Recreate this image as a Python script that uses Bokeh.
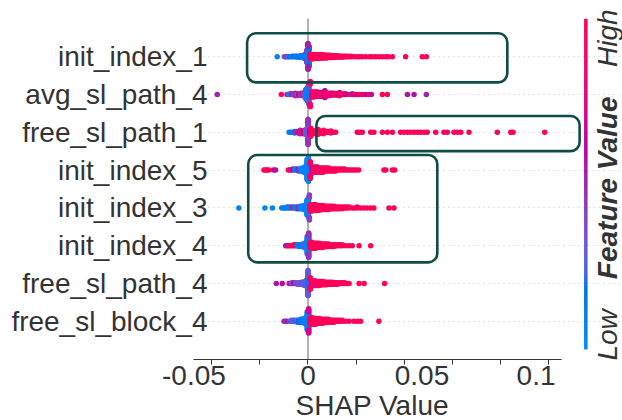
import numpy as np
from bokeh.plotting import figure
from bokeh.models import (Range1d, FixedTicker, BoxAnnotation, ColumnDataSource, Label,
                          Title)
from bokeh.transform import linear_cmap
from bokeh.embed import file_html
from bokeh.resources import INLINE

# ---------------- data ----------------
# features, top to bottom
features = ["init_index_1", "avg_sl_path_4", "free_sl_path_1", "init_index_5",
            "init_index_3", "init_index_4", "free_sl_path_4", "free_sl_block_4"]

# each entry: (SHAP value, number of samples, feature value 0=low .. 1=high)
init_index_1 = [
    (-0.0135, 1, 0.05), (-0.0104, 1, 0.30), (-0.0097, 1, 0.45), (-0.0091, 1, 0.35),
    (-0.0085, 1, 0.25), (-0.0078, 1, 0.15), (-0.0070, 2, 0.10), (-0.0062, 2, 0.15),
    (-0.0055, 2, 0.10), (-0.0048, 3, 0.20), (-0.0040, 3, 0.10), (-0.0032, 4, 0.15),
    (-0.0025, 5, 0.10), (-0.0018, 7, 0.20), (-0.0011, 12, 0.10),
    (-0.0005, 20, 0.10), (-0.0005, 8, 0.45), (0.0000, 30, 0.05), (0.0005, 14, 0.15),
    (0.0000, 14, 0.50),
    (0.0010, 12, 0.95), (0.0018, 11, 0.95), (0.0026, 10, 0.95), (0.0034, 10, 0.95),
    (0.0042, 9, 0.95), (0.0050, 9, 0.95), (0.0058, 8, 0.95), (0.0066, 8, 0.95),
    (0.0074, 7, 0.95), (0.0082, 7, 0.95), (0.0090, 6, 0.95), (0.0098, 6, 0.95),
    (0.0106, 5, 0.95), (0.0114, 5, 0.95), (0.0122, 4, 0.95), (0.0130, 4, 0.95),
    (0.0138, 3, 0.95), (0.0146, 3, 0.95), (0.0154, 3, 0.95), (0.0162, 2, 0.95),
    (0.0170, 2, 0.95), (0.0180, 2, 0.95), (0.0190, 2, 0.95),
    (0.0203, 1, 0.95), (0.0216, 1, 0.95), (0.0227, 1, 0.95), (0.0238, 1, 0.95),
    (0.0253, 1, 0.95), (0.0270, 1, 0.95), (0.0282, 1, 0.95), (0.0297, 1, 0.95),
    (0.0311, 1, 0.95), (0.0326, 1, 0.95), (0.0341, 1, 0.95), (0.0352, 1, 0.95),
    (0.0370, 1, 0.95), (0.0428, 1, 0.95), (0.0501, 1, 0.95), (0.0519, 1, 0.95),
]

avg_sl_path_4 = [
    (-0.0398, 1, 0.50), (-0.0117, 1, 0.95), (-0.0092, 1, 0.55), (-0.0085, 1, 0.30),
    (-0.0078, 2, 0.20), (-0.0070, 2, 0.50), (-0.0062, 2, 0.25), (-0.0055, 3, 0.90),
    (-0.0048, 3, 0.30), (-0.0040, 3, 0.60), (-0.0032, 4, 0.40), (-0.0024, 5, 0.90),
    (-0.0016, 6, 0.30), (-0.0009, 10, 0.20),
    (-0.0003, 22, 0.05), (0.0003, 22, 0.10), (0.0003, 10, 0.35),
    (0.0010, 10, 0.90), (0.0018, 9, 0.75), (0.0026, 9, 0.95), (0.0034, 8, 0.80),
    (0.0042, 8, 0.95), (0.0050, 7, 0.70), (0.0058, 7, 0.95), (0.0066, 6, 0.90),
    (0.0074, 6, 0.60), (0.0082, 5, 0.95), (0.0090, 5, 0.85), (0.0098, 4, 0.95),
    (0.0106, 4, 0.60), (0.0114, 4, 0.95), (0.0122, 3, 0.90), (0.0130, 3, 0.60),
    (0.0138, 3, 0.95), (0.0151, 2, 0.95), (0.0165, 2, 0.60),
    (0.0180, 1, 0.95), (0.0194, 2, 0.55), (0.0205, 1, 0.95), (0.0216, 1, 0.60),
    (0.0227, 1, 0.95), (0.0238, 1, 0.90), (0.0253, 1, 0.60), (0.0268, 1, 0.90),
    (0.0278, 1, 0.55), (0.0326, 1, 0.95), (0.0348, 1, 0.95), (0.0436, 1, 0.55),
    (0.0465, 1, 0.55), (0.0519, 1, 0.50),
]

free_sl_path_1 = [
    (-0.0083, 1, 0.05), (-0.0075, 1, 0.10), (-0.0066, 1, 0.20), (-0.0058, 2, 0.15),
    (-0.0050, 2, 0.45), (-0.0042, 3, 0.80), (-0.0034, 3, 0.50), (-0.0026, 4, 0.95),
    (-0.0018, 5, 0.60), (-0.0010, 8, 0.30),
    (0.0000, 18, 0.30), (0.0000, 12, 0.45), (0.0008, 8, 0.60),
    (0.0012, 5, 0.95), (0.0020, 5, 0.95), (0.0028, 4, 0.95), (0.0036, 4, 0.95),
    (0.0044, 4, 0.95), (0.0052, 3, 0.95), (0.0060, 3, 0.95), (0.0068, 3, 0.95),
    (0.0076, 2, 0.95), (0.0084, 2, 0.95), (0.0092, 2, 0.95), (0.0100, 2, 0.95),
    (0.0110, 1, 0.95), (0.0121, 1, 0.95),
    (0.0216, 1, 0.95), (0.0227, 1, 0.95), (0.0238, 1, 0.95), (0.0275, 1, 0.95),
    (0.0289, 1, 0.95), (0.0326, 1, 0.95), (0.0348, 1, 0.95), (0.0370, 1, 0.95),
    (0.0406, 1, 0.95), (0.0421, 1, 0.95), (0.0436, 1, 0.95), (0.0450, 1, 0.95),
    (0.0465, 1, 0.95), (0.0480, 1, 0.95), (0.0494, 1, 0.95), (0.0509, 1, 0.95),
    (0.0523, 1, 0.95), (0.0560, 1, 0.95), (0.0596, 1, 0.95), (0.0611, 1, 0.95),
    (0.0640, 1, 0.95), (0.0655, 1, 0.95), (0.0670, 1, 0.95), (0.0706, 1, 0.95),
    (0.0830, 1, 0.95), (0.0889, 1, 0.95), (0.0899, 1, 0.95), (0.1038, 1, 0.95),
]

init_index_5 = [
    (-0.0193, 1, 0.95), (-0.0186, 1, 0.95), (-0.0179, 1, 0.90), (-0.0171, 1, 0.95),
    (-0.0150, 1, 0.60), (-0.0142, 1, 0.55),
    (-0.0086, 1, 0.95), (-0.0080, 1, 0.90), (-0.0073, 1, 0.95), (-0.0066, 2, 0.60),
    (-0.0058, 2, 0.20), (-0.0050, 2, 0.10), (-0.0042, 3, 0.50), (-0.0034, 3, 0.10),
    (-0.0026, 4, 0.05), (-0.0018, 5, 0.10), (-0.0010, 8, 0.05),
    (-0.0004, 20, 0.05), (0.0002, 24, 0.02), (0.0006, 10, 0.10),
    (0.0010, 7, 0.95), (0.0018, 7, 0.70), (0.0026, 6, 0.95), (0.0034, 6, 0.95),
    (0.0042, 6, 0.75), (0.0050, 5, 0.95), (0.0058, 5, 0.95), (0.0066, 5, 0.95),
    (0.0074, 4, 0.95), (0.0082, 4, 0.95), (0.0090, 4, 0.95), (0.0098, 3, 0.95),
    (0.0106, 3, 0.95), (0.0114, 3, 0.95), (0.0122, 3, 0.95), (0.0130, 2, 0.95),
    (0.0140, 2, 0.95), (0.0150, 2, 0.95), (0.0160, 2, 0.95), (0.0170, 1, 0.95),
    (0.0180, 1, 0.95), (0.0190, 1, 0.95), (0.0200, 1, 0.95), (0.0210, 1, 0.95),
    (0.0222, 1, 0.95),
    (0.0333, 1, 0.95), (0.0341, 1, 0.95), (0.0370, 1, 0.95), (0.0380, 1, 0.95),
]

init_index_3 = [
    (-0.0303, 1, 0.05), (-0.0189, 1, 0.05), (-0.0156, 1, 0.05), (-0.0115, 1, 0.05),
    (-0.0108, 1, 0.10), (-0.0100, 1, 0.05), (-0.0092, 2, 0.10), (-0.0084, 2, 0.05),
    (-0.0076, 2, 0.10), (-0.0066, 2, 0.95), (-0.0058, 2, 0.10), (-0.0050, 3, 0.05),
    (-0.0042, 3, 0.50), (-0.0034, 4, 0.10), (-0.0026, 4, 0.05), (-0.0018, 6, 0.10),
    (-0.0010, 8, 0.05),
    (-0.0004, 20, 0.05), (0.0002, 24, 0.05), (0.0006, 8, 0.40),
    (0.0010, 9, 0.95), (0.0018, 9, 0.95), (0.0026, 8, 0.95), (0.0034, 8, 0.95),
    (0.0042, 7, 0.95), (0.0050, 7, 0.95), (0.0058, 6, 0.95), (0.0066, 6, 0.95),
    (0.0074, 5, 0.95), (0.0082, 5, 0.95), (0.0090, 5, 0.95), (0.0098, 4, 0.95),
    (0.0106, 4, 0.95), (0.0114, 4, 0.95), (0.0122, 3, 0.95), (0.0130, 3, 0.95),
    (0.0140, 3, 0.95), (0.0150, 3, 0.95), (0.0160, 2, 0.95), (0.0170, 2, 0.95),
    (0.0180, 2, 0.95), (0.0194, 1, 0.95), (0.0205, 1, 0.95), (0.0216, 2, 0.95),
    (0.0231, 1, 0.95), (0.0246, 1, 0.95), (0.0260, 1, 0.95), (0.0275, 1, 0.95),
    (0.0289, 1, 0.95),
    (0.0355, 1, 0.95), (0.0377, 1, 0.95),
]

init_index_4 = [
    (-0.0098, 1, 0.50), (-0.0091, 1, 0.55), (-0.0084, 1, 0.90), (-0.0076, 1, 0.95),
    (-0.0069, 1, 0.90), (-0.0062, 2, 0.95), (-0.0054, 2, 0.90), (-0.0047, 2, 0.20),
    (-0.0040, 3, 0.05), (-0.0032, 3, 0.10), (-0.0024, 4, 0.05), (-0.0016, 5, 0.30),
    (-0.0009, 8, 0.05),
    (-0.0003, 22, 0.05), (0.0003, 20, 0.05), (0.0003, 10, 0.45),
    (0.0010, 8, 0.95), (0.0018, 8, 0.95), (0.0026, 7, 0.95), (0.0034, 7, 0.95),
    (0.0042, 6, 0.95), (0.0050, 6, 0.95), (0.0058, 5, 0.95), (0.0066, 5, 0.95),
    (0.0074, 4, 0.95), (0.0082, 4, 0.95), (0.0090, 4, 0.95), (0.0098, 3, 0.95),
    (0.0106, 3, 0.95), (0.0114, 3, 0.95), (0.0122, 2, 0.95), (0.0130, 2, 0.95),
    (0.0140, 2, 0.95), (0.0150, 2, 0.95), (0.0165, 1, 0.95),
    (0.0180, 1, 0.95), (0.0194, 1, 0.95), (0.0224, 1, 0.95), (0.0275, 1, 0.95),
]

free_sl_path_4 = [
    (-0.0139, 1, 0.55), (-0.0113, 1, 0.60), (-0.0083, 1, 0.90), (-0.0077, 1, 0.55),
    (-0.0070, 2, 0.30), (-0.0062, 2, 0.60), (-0.0054, 2, 0.30), (-0.0046, 3, 0.40),
    (-0.0038, 3, 0.30), (-0.0030, 4, 0.35), (-0.0022, 5, 0.30), (-0.0014, 7, 0.30),
    (-0.0007, 10, 0.25),
    (0.0000, 25, 0.10), (0.0006, 10, 0.20), (0.0000, 15, 0.30),
    (0.0010, 9, 0.95), (0.0018, 9, 0.80), (0.0026, 8, 0.95), (0.0034, 8, 0.80),
    (0.0042, 7, 0.95), (0.0050, 7, 0.95), (0.0058, 6, 0.95), (0.0066, 6, 0.95),
    (0.0074, 5, 0.95), (0.0082, 5, 0.95), (0.0090, 4, 0.95), (0.0098, 4, 0.95),
    (0.0106, 4, 0.95), (0.0114, 3, 0.95), (0.0122, 3, 0.95), (0.0130, 3, 0.95),
    (0.0140, 2, 0.95), (0.0150, 2, 0.95), (0.0160, 2, 0.95), (0.0170, 1, 0.95),
    (0.0180, 1, 0.95),
    (0.0224, 1, 0.95), (0.0246, 1, 0.95), (0.0336, 1, 0.95),
]

free_sl_block_4 = [
    (-0.0105, 1, 0.50), (-0.0098, 1, 0.45), (-0.0091, 1, 0.50), (-0.0080, 1, 0.35),
    (-0.0072, 2, 0.30), (-0.0064, 2, 0.25), (-0.0056, 2, 0.20), (-0.0048, 3, 0.30),
    (-0.0040, 3, 0.15), (-0.0032, 4, 0.20), (-0.0024, 4, 0.10), (-0.0016, 6, 0.10),
    (-0.0009, 8, 0.05),
    (-0.0003, 20, 0.05), (0.0003, 18, 0.08), (0.0003, 8, 0.70),
    (0.0010, 8, 0.95), (0.0018, 8, 0.95), (0.0026, 7, 0.95), (0.0034, 7, 0.95),
    (0.0042, 6, 0.95), (0.0050, 6, 0.95), (0.0058, 5, 0.95), (0.0066, 5, 0.95),
    (0.0074, 4, 0.95), (0.0082, 4, 0.95), (0.0090, 4, 0.95), (0.0098, 3, 0.95),
    (0.0106, 3, 0.95), (0.0114, 3, 0.95), (0.0122, 2, 0.95), (0.0130, 2, 0.95),
    (0.0140, 2, 0.95), (0.0150, 2, 0.95), (0.0165, 1, 0.95),
    (0.0180, 1, 0.95), (0.0201, 1, 0.95), (0.0216, 1, 0.95), (0.0231, 1, 0.95),
    (0.0311, 1, 0.95),
]

rows = [init_index_1, avg_sl_path_4, free_sl_path_1, init_index_5,
        init_index_3, init_index_4, free_sl_path_4, free_sl_block_4]

x_tick_values = [-0.05, 0, 0.05, 0.1]
x_tick_labels = ["-0.05", "0", "0.05", "0.1"]
x_tick_marks = [-0.0422, -0.0211, 0.0, 0.0211, 0.0422, 0.0633, 0.0844, 0.1055]
x_title = "SHAP Value"

# highlight boxes: (left, right, bottom, top) in data units
highlight_boxes = [(-0.0267, 0.0874, 6.32, 7.62),
                   (0.0037, 0.1191, 4.50, 5.43),
                   (-0.0262, 0.0567, 1.56, 4.40)]

# ---------------- colour map (SHAP red_blue, LCH interpolation) ----------------
def lch_to_hex(L, C, h):
    a, b = C * np.cos(h), C * np.sin(h)
    fy = (L + 16) / 116.0
    fx, fz = fy + a / 500.0, fy - b / 200.0
    def finv(t):
        return t ** 3 if t > 6 / 29 else 3 * (6 / 29) ** 2 * (t - 4 / 29)
    X, Y, Z = 0.95047 * finv(fx), finv(fy), 1.08883 * finv(fz)
    rgb = [3.2406 * X - 1.5372 * Y - 0.4986 * Z,
           -0.9689 * X + 1.8758 * Y + 0.0415 * Z,
           0.0557 * X - 0.2040 * Y + 1.0570 * Z]
    out = []
    for c in rgb:
        c = 12.92 * c if c <= 0.0031308 else 1.055 * max(c, 0) ** (1 / 2.4) - 0.055
        out.append(int(round(min(max(c, 0), 1) * 255)))
    return "#%02x%02x%02x" % tuple(out)

nsteps = 100
l_vals = list(np.linspace(54, 40, nsteps // 2)) + list(np.linspace(40, 54, nsteps // 2))
c_vals = np.linspace(70, 90, nsteps)
h_vals = np.linspace(4.6588, 0.35470565 + 2 * np.pi, nsteps)
palette = [lch_to_hex(l, c, h) for l, c, h in zip(l_vals, c_vals, h_vals)]

# ---------------- beeswarm layout (as in shap summary plot) ----------------
def swarm_offsets(vals, row_height=0.4):
    vals = np.asarray(vals)
    N = len(vals)
    nbins = 100
    quant = np.round(nbins * (vals - vals.min()) / (vals.max() - vals.min() + 1e-8))
    inds = np.argsort(quant, kind="stable")
    layer, last_bin = 0, -1
    ys = np.zeros(N)
    for ind in inds:
        if quant[ind] != last_bin:
            layer = 0
        ys[ind] = np.ceil(layer / 2) * ((layer % 2) * 2 - 1)
        layer += 1
        last_bin = quant[ind]
    ys *= 0.9 * (row_height / np.max(ys + 1))
    return ys

xs, ys, fvs = [], [], []
n = len(features)
for i, row in enumerate(rows):
    pos = n - 1 - i
    v = np.concatenate([[s] * c for s, c, f in row])
    fv = np.concatenate([[f] * c for s, c, f in row])
    off = swarm_offsets(v)
    xs.extend(v.tolist())
    ys.extend((pos + off).tolist())
    fvs.extend(fv.tolist())

src = ColumnDataSource(dict(x=xs, y=ys, fv=fvs))

# ---------------- figure ----------------
FONT = "Liberation Sans"
TXT = "#333333"

p = figure(width=622, height=420, x_range=Range1d(-0.0502, 0.1379),
           y_range=Range1d(-1.01, 8.485), output_backend="svg", toolbar_location=None,
           min_border_left=193, min_border_right=0, min_border_top=0,
           min_border_bottom=0)
p.outline_line_color = None
p.background_fill_color = "white"
p.border_fill_color = "white"
p.xgrid.visible = False

p.ygrid.ticker = FixedTicker(ticks=list(range(n)))
p.ygrid.grid_line_color = "#c8c8c8"
p.ygrid.grid_line_dash = "1 4"
p.ygrid.grid_line_width = 1
p.ygrid.bounds = (-0.0436, 0.1103)

# vertical reference line at SHAP = 0
zl = p.segment(x0=[0], y0=[-1.01], x1=[0], y1=[8], line_color="#999999", line_width=1.5)
zl.level = "underlay"

p.scatter("x", "y", source=src, size=5.5, line_color=None,
          fill_color=linear_cmap("fv", palette, 0, 1))

for (l, r, b, t) in highlight_boxes:
    p.add_layout(BoxAnnotation(left=l, right=r, bottom=b, top=t,
                               fill_color=None, fill_alpha=0, line_color="#0e4c45",
                               line_alpha=1, line_width=2.6, border_radius=9))

# x axis
xa = p.xaxis[0]
xa.bounds = (-0.05, 0.1112)
xa.ticker = FixedTicker(ticks=x_tick_values, minor_ticks=x_tick_marks)
xa.major_label_overrides = dict(zip(x_tick_values, x_tick_labels))
xa.major_tick_line_color = None
xa.major_tick_out = 5
xa.minor_tick_out = 5
xa.minor_tick_in = 0
xa.minor_tick_line_color = TXT
xa.axis_line_color = TXT
xa.axis_line_width = 1.2
xa.major_label_text_font = FONT
xa.major_label_text_font_size = "28px"
xa.major_label_text_color = TXT
xa.major_label_standoff = 1

# x axis title, placed below the tick numbers and centred under the axis line
p.add_layout(Title(text=x_title, align="left", offset=102, standoff=0,
                   text_font=FONT, text_font_size="28px", text_font_style="normal",
                   text_color=TXT), "below")

# y axis
ya = p.yaxis[0]
ya.ticker = FixedTicker(ticks=list(range(n)))
ya.major_label_overrides = {n - 1 - i: f for i, f in enumerate(features)}
ya.axis_line_color = None
ya.major_tick_line_color = None
ya.minor_tick_line_color = None
ya.major_tick_out = 0
ya.major_tick_in = 0
ya.major_label_standoff = -14
ya.major_label_text_font = FONT
ya.major_label_text_font_size = "28px"
ya.major_label_text_color = TXT

# colour bar
cb_x, cb_w, cb_bottom, cb_top = 0.12105, 0.00154, -0.744, 8.0
p.image(image=[np.arange(len(palette)).reshape(-1, 1)], x=cb_x, y=cb_bottom,
        dw=cb_w, dh=cb_top - cb_bottom, palette=palette)

for txt, yy, style in [("High", 7.49, "italic"), ("Feature Value", 3.53, "bold italic"),
                       ("Low", -0.36, "italic")]:
    p.add_layout(Label(x=0.1314, y=yy, text=txt, angle=90, angle_units="deg",
                       text_align="center", text_baseline="middle",
                       text_font=FONT, text_font_size="28px", text_font_style=style,
                       text_color=TXT))

open("out.html", "w").write(file_html(p, INLINE))
